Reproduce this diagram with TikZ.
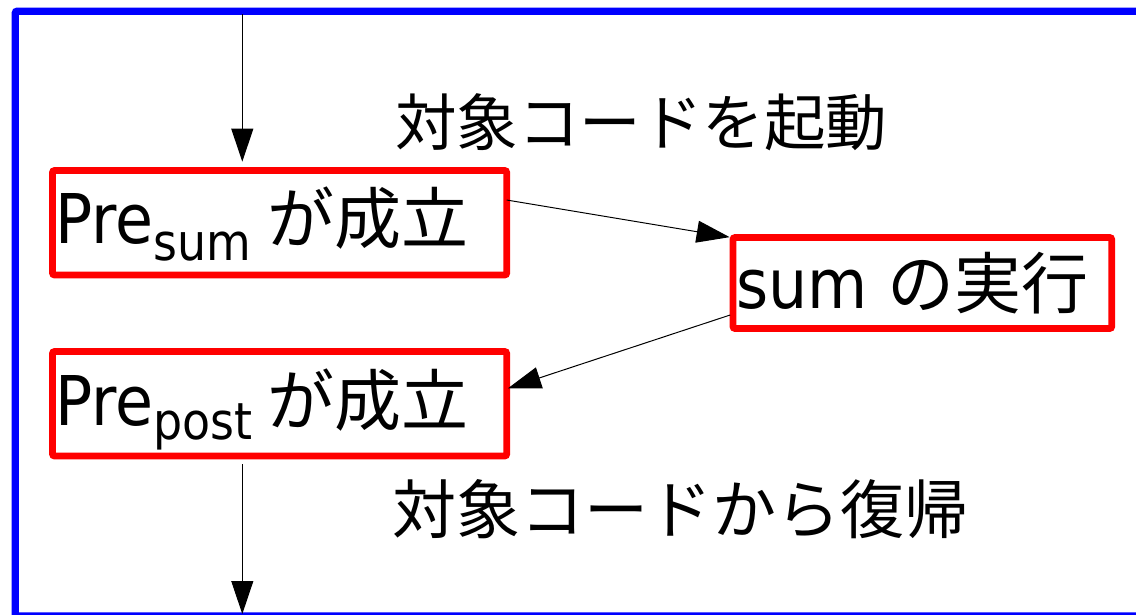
\documentclass[tikz,border=0pt]{standalone}
\usepackage{fontspec}
\setmainfont[FakeStretch=0.9]{DejaVu Sans}
\newfontfamily\jp{Noto Sans CJK JP}
\usetikzlibrary{arrows.meta}
\newcommand{\lowsub}[2]{\raisebox{-#1}{\fontsize{51}{51}\selectfont #2}}
\newcommand{\bigjp}[1]{{\fontsize{67}{67}\selectfont\jp #1}}
\tikzset{
  frame/.style={draw=blue, line width=7.3pt, rounded corners=2pt},
  redbox/.style={draw=red, line width=6.7pt, rounded corners=2pt, inner xsep=3pt, inner ysep=0pt,
    align=left, font=\fontsize{68.6}{70}\selectfont},
  lbl/.style={inner sep=0pt, font=\fontsize{62}{62}\selectfont\jp},
  conn/.style={draw=black, line width=1pt, -{Triangle[width=22pt,length=33pt]}},
}
\begin{document}
\begin{tikzpicture}[x=1pt,y=-1pt]
\useasboundingbox (0,0) rectangle (1136,614);
\clip (0,0) rectangle (1136,614);
\draw[frame] (15.3,11.2) rectangle (1160,616);
\coordinate (topin) at (242.3,14);
\coordinate (botout) at (242.3,614);
\node[redbox, text width=448.2pt, text height=72.5pt, text depth=32pt, anchor=north west] (presum) at (49.15,167.15)
  {Pre\lowsub{17pt}{sum}\hspace{16pt}\bigjp{が成立}};
\node[redbox, text width=448.2pt, text height=73.5pt, text depth=31pt, anchor=north west] (prepost) at (49.15,348.15)
  {Pre\lowsub{14pt}{post}\hspace{15pt}\bigjp{が成立}};
\node[redbox, text width=372.7pt, text height=70.5pt, text depth=20.5pt, anchor=north west] (exec) at (729.65,234.15)
  {sum\hspace{20pt}\bigjp{の実行}};
\node[lbl, font=\fontsize{61.5}{62}\selectfont\jp, anchor=base west] (start) at (395,145.5) {対象コードを起動};
\node[lbl, font=\fontsize{64}{64}\selectfont\jp, anchor=base west] (ret) at (392,533) {対象コードから復帰};
\draw[conn, shorten >=5.5pt] (topin) -- (topin |- presum.north);
\draw[conn, shorten <=5pt] (botout |- prepost.south) -- (botout);
\draw[conn] ([xshift=-3.35pt,yshift=22.75pt]presum.east) -- ([yshift=-3pt]exec.north west);
\draw[conn] ([xshift=0.5pt,yshift=-32pt]exec.west) -- ([xshift=-2pt,yshift=15.5pt]prepost.east);
\end{tikzpicture}
\end{document}
